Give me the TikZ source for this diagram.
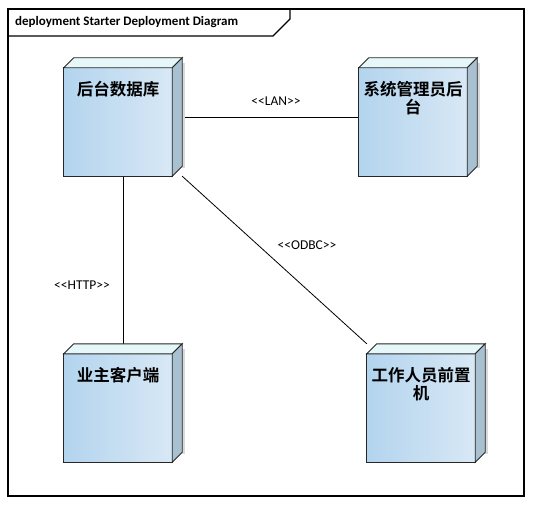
\documentclass[tikz,border=0pt]{standalone}
\usepackage{fontspec}
\setmainfont{Carlito}
\newfontfamily\cjk{Noto Sans CJK SC}[BoldFont={Noto Sans CJK SC Bold}]
\usetikzlibrary{calc}
\definecolor{faceL}{HTML}{B3D4EE}
\definecolor{faceR}{HTML}{D8E8F5}
\definecolor{topc}{HTML}{E6F7FA}
\definecolor{sidec}{HTML}{A8C0D0}
\definecolor{shadowgray}{HTML}{D9D9D9}
\tikzset{
  edge/.style={draw=black!85, line width=0.9pt},
  devbox/.style={draw=none, minimum width=118pt, minimum height=118pt, inner sep=0pt},
  devtext/.style={font=\cjk\bfseries\fontsize{16.5}{18.5}\selectfont, text width=108pt, align=center, inner sep=0pt, anchor=north},
  conn/.style={draw=black, line width=0.8pt},
  stereo/.style={font=\fontsize{13.5}{15}\selectfont, inner sep=1pt},
}
\newcommand\cubeshape[1]{%
  \fill[shadowgray] ([yshift=-5pt]#1.north east) rectangle ([xshift=3pt,yshift=8pt]#1.south east);
  \draw[edge, shading=axis, left color=faceL, right color=faceR] (#1.south west) rectangle ([xshift=-10pt,yshift=-10pt]#1.north east);
  \draw[edge, fill=topc] ([yshift=-10pt]#1.north west) -- ([xshift=10pt]#1.north west) -- (#1.north east) -- ([xshift=-10pt,yshift=-10pt]#1.north east) -- cycle;
  \draw[edge, fill=sidec] ([xshift=-10pt,yshift=-10pt]#1.north east) -- (#1.north east) -- ([yshift=10pt]#1.south east) -- ([xshift=-10pt]#1.south east) -- cycle;
}
\begin{document}
\begin{tikzpicture}[x=1pt,y=1pt]
\useasboundingbox[fill=white] (0,0) rectangle (533,504);
% frame
\draw[line width=1.2pt] (8,8) rectangle (524,495);
\draw[line width=1.2pt] (8,468) -- (273,468) -- (290,485) -- (290,495);
\node[anchor=west, inner sep=0pt, font=\bfseries\fontsize{13}{15}\selectfont] (title) at (15,482) {deployment Starter Deployment Diagram};
% device nodes (full extent incl. depth)
\node[devbox] (db) at (123,387) {};
\node[devbox] (adm) at (418,387) {};
\node[devbox] (client) at (123,101) {};
\node[devbox] (staff) at (426,101) {};
% connectors
\draw[conn] (db.east) -- (adm.west);
\draw[conn] (db.south) -- (client.north);
\draw[conn] (db.south east) -- (staff.north west);
% labels
\node[stereo] (lLAN) at (276,403) {{<}{<}LAN{>}{>}};
\node[stereo] (lHTTP) at (82,219) {{<}{<}HTTP{>}{>}};
\node[stereo] (lODBC) at (307,259) {{<}{<}ODBC{>}{>}};
% boxes
\cubeshape{db}
\cubeshape{adm}
\cubeshape{client}
\cubeshape{staff}
% texts
\node[devtext] (tdb) at ([xshift=-5pt,yshift=-23pt]db.north) {后台数据库};
\node[devtext] (tadm) at ([xshift=-5pt,yshift=-23pt]adm.north) {系统管理员后\\台};
\node[devtext] (tclient) at ([xshift=-5pt,yshift=-23pt]client.north) {业主客户端};
\node[devtext] (tstaff) at ([xshift=-5pt,yshift=-23pt]staff.north) {工作人员前置\\机};
\end{tikzpicture}
\end{document}
